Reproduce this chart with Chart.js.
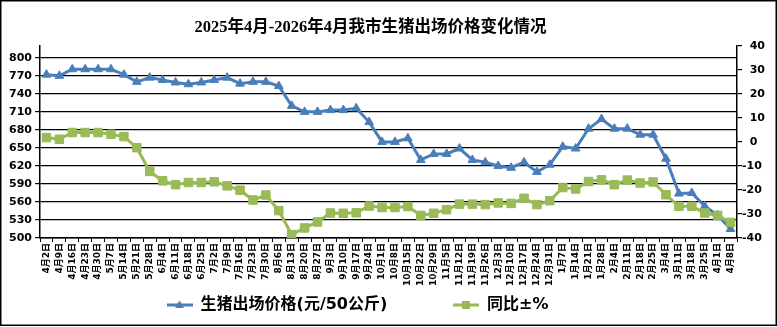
<!DOCTYPE html>
<html>
<head>
<meta charset="utf-8">
<title>生猪出场价格</title>
<script src="https://cdn.jsdelivr.net/npm/chart.js@4.4.1/dist/chart.umd.min.js"></script>
<style>
  html, body { margin: 0; padding: 0; background: #fff; }
  #wrap { width: 777px; height: 327px; position: relative; }
</style>
</head>
<body>
<div id="wrap"><canvas id="pig"></canvas></div>
<script>
// weekly dates, 2025-04-02 .. 2026-04-08
var weeks = [
  "4月2日", "4月9日", "4月16日", "4月23日", "4月30日", "5月7日", "5月14日", "5月21日", "5月28日",
  "6月4日", "6月11日", "6月18日", "6月25日", "7月2日", "7月9日", "7月16日", "7月23日", "7月30日",
  "8月6日", "8月13日", "8月20日", "8月27日", "9月3日", "9月10日", "9月17日", "9月24日",
  "10月1日", "10月8日", "10月15日", "10月22日", "10月29日", "11月5日", "11月12日", "11月19日", "11月26日",
  "12月3日", "12月10日", "12月17日", "12月24日", "12月31日", "1月7日", "1月14日", "1月21日", "1月28日",
  "2月4日", "2月11日", "2月18日", "2月25日", "3月4日", "3月11日", "3月18日", "3月25日", "4月1日", "4月8日"
];

// 元/50公斤
var price = [
  772, 770, 781, 781, 781, 781, 772, 760, 767, 763, 759, 756, 759, 763, 767, 757, 760, 760, 753,
  720, 710, 710, 713, 713, 716, 693, 660, 660, 666, 630, 640, 640, 649, 630, 626, 620, 617,
  626, 610, 622, 652, 649, 682, 698, 682, 682, 672, 672, 632, 574, 575, 553, 538, 515
];

// 同比 %
var yoy = [
  1.8, 1.1, 3.9, 3.9, 3.9, 3.2, 2.2, -2.4, -12.3, -16.2, -17.8, -16.9, -16.9, -16.6, -18.3, -20.1, -24.2, -22.1, -28.6,
  -38.6, -35.8, -33.3, -29.6, -29.7, -29.5, -26.7, -27.3, -27.3, -26.9, -30.6, -29.7, -28.2, -25.9, -25.9, -26.1, -25.4, -25.6,
  -23.5, -26.1, -24.5, -19, -19.6, -16.5, -15.8, -17.8, -15.9, -17.1, -16.7, -22, -26.8, -26.8, -29.6, -30.6, -33.5
];

var priceTicks = [500, 530, 560, 590, 620, 650, 680, 710, 740, 770, 800];
var yoyTicks = [-40, -30, -20, -10, 0, 10, 20, 30, 40];

var BLUE = "#4a7ebb";
var GREEN = "#98b954";
var FONT = "'DejaVu Sans', 'Noto Sans CJK SC', sans-serif";

// little line+marker swatch for the legend
function swatch(color, shape) {
  var cv = document.createElement("canvas");
  cv.width = 26; cv.height = 12;
  var g = cv.getContext("2d");
  g.strokeStyle = color;
  g.lineWidth = 3;
  g.beginPath(); g.moveTo(0, 6); g.lineTo(26, 6); g.stroke();
  g.fillStyle = color;
  if (shape === "triangle") {
    g.beginPath(); g.moveTo(13, 1.5); g.lineTo(17.5, 9); g.lineTo(8.5, 9); g.closePath(); g.fill();
  } else {
    g.fillRect(9, 2, 8, 8);
  }
  return cv;
}

var frame = {
  id: "frame",
  afterUpdate: function (chart) {
    // title and legend sit a bit left of centre
    chart.titleBlock.left -= 18;
    chart.titleBlock.right -= 18;
    chart.legend.left -= 31;
    chart.legend.right -= 31;
  },
  afterDraw: function (chart) {
    var ctx = chart.ctx;
    ctx.save();
    ctx.strokeStyle = "#000";
    ctx.lineWidth = 1.5;
    ctx.strokeRect(0.75, 0.75, chart.width - 1.5, chart.height - 2.5);
    ctx.restore();
  }
};

new Chart(document.getElementById("pig"), {
  type: "line",
  data: {
    labels: weeks,
    datasets: [
      {
        label: "同比±%",
        data: yoy,
        yAxisID: "y1",
        borderColor: GREEN,
        backgroundColor: "#9bbb59",
        borderWidth: 3,
        pointStyle: "rect",
        pointRadius: 6,
        pointBorderWidth: 1,
        tension: 0
      },
      {
        label: "生猪出场价格(元/50公斤)",
        data: price,
        yAxisID: "y",
        borderColor: BLUE,
        backgroundColor: BLUE,
        borderWidth: 3,
        pointStyle: "triangle",
        pointRadius: 5,
        pointBorderWidth: 1,
        tension: 0
      }
    ]
  },
  options: {
    responsive: true,
    maintainAspectRatio: false,
    animation: false,
    layout: { padding: { left: 0, right: 0, top: 0, bottom: 4 } },
    plugins: {
      title: {
        display: true,
        text: "2025年4月-2026年4月我市生猪出场价格变化情况",
        color: "#000",
        font: { family: "'Liberation Serif', 'Noto Sans CJK SC', serif", size: 16.5, weight: "bold" },
        padding: { top: 18, bottom: 8 }
      },
      legend: {
        position: "bottom",
        labels: {
          usePointStyle: true,
          pointStyleWidth: 26,
          padding: 10,
          color: "#000",
          font: { family: FONT, size: 16, weight: "bold" },
          generateLabels: function () {
            return [
              { text: "生猪出场价格(元/50公斤)          ", pointStyle: swatch(BLUE, "triangle"), fontColor: "#000", datasetIndex: 1, lineWidth: 0, strokeStyle: "transparent", fillStyle: BLUE },
              { text: "同比±%", pointStyle: swatch(GREEN, "rect"), fontColor: "#000", datasetIndex: 0, lineWidth: 0, strokeStyle: "transparent", fillStyle: GREEN }
            ];
          }
        }
      },
      tooltip: { enabled: false }
    },
    scales: {
      x: {
        offset: true,
        grid: { display: true, drawOnChartArea: false, offset: true, tickLength: 4, color: "#000", lineWidth: 1 },
        border: { display: true, color: "#000", width: 1.5 },
        ticks: {
          autoSkip: false, minRotation: 90, maxRotation: 90, padding: 1, color: "#000",
          font: { family: FONT, size: 9, weight: "bold" }
        },
        afterFit: function (s) { s.height = 49; }
      },
      y: {
        position: "left",
        min: 500,
        max: 820,
        afterBuildTicks: function (s) { s.ticks = priceTicks.map(function (v) { return { value: v }; }); },
        grid: { color: "#000", lineWidth: 1.2, tickLength: 5 },
        border: { color: "#000", width: 1.5 },
        ticks: { color: "#000", padding: 3, font: { family: FONT, size: 11, weight: "bold" } },
        afterFit: function (s) { s.width = 40; }
      },
      y1: {
        position: "right",
        min: -40,
        max: 40,
        afterBuildTicks: function (s) { s.ticks = yoyTicks.map(function (v) { return { value: v }; }); },
        grid: { drawOnChartArea: false, color: "#000", lineWidth: 1.2, tickLength: 5 },
        border: { color: "#000", width: 1.5 },
        ticks: {
          color: "#000", padding: 0, font: { family: FONT, size: 11, weight: "bold" },
          callback: function (v) { return v < 0 ? String(v) : "  " + v; }
        },
        afterFit: function (s) { s.width = 40; }
      }
    }
  },
  plugins: [frame]
});
</script>
</body>
</html>
